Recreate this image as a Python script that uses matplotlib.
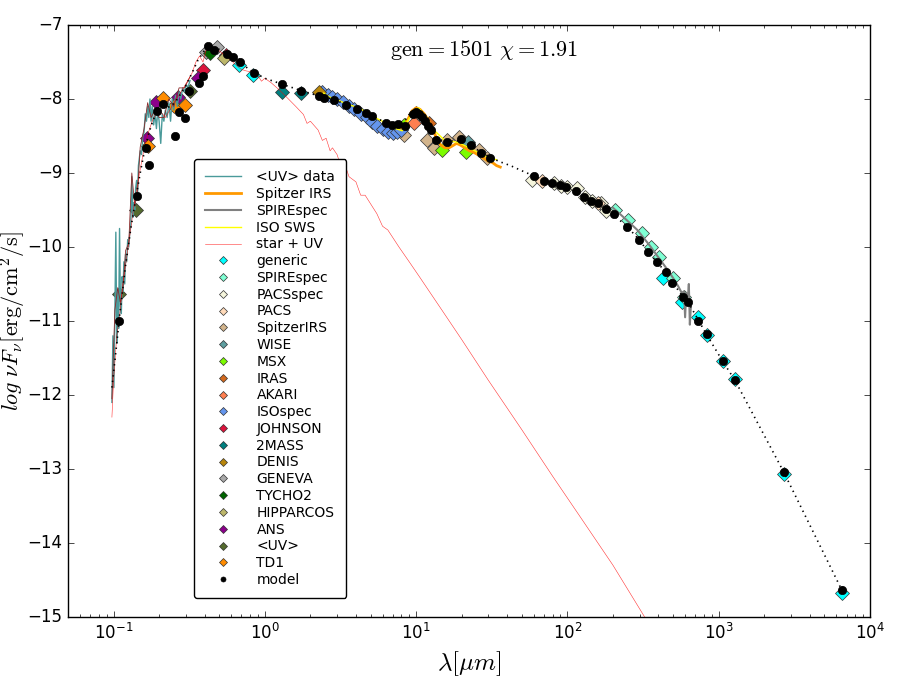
import matplotlib
matplotlib.use("Agg")
import matplotlib.pyplot as plt
import numpy as np

# ---- spectra: (wavelength [um], log nuFnu) ----
uv_data = [
    (0.0975, -12.1), (0.0990, -11.2), (0.1005, -11.9), (0.1020, -10.9), (0.1035, -9.8),
    (0.1050, -11.3), (0.1065, -10.6), (0.1080, -11.1), (0.1095, -9.75), (0.1110, -10.8),
    (0.1125, -10.9), (0.1140, -10.4), (0.1155, -10.6), (0.1170, -10.2), (0.1185, -10.5),
    (0.1200, -10.1), (0.1220, -10.2), (0.1240, -9.9), (0.1260, -10.0), (0.1280, -9.8),
    (0.1300, -9.7), (0.1320, -9.05), (0.1340, -9.6), (0.1360, -9.4), (0.1380, -9.5),
    (0.1400, -9.2), (0.1420, -9.1), (0.1440, -9.3), (0.1460, -8.9), (0.1480, -8.8),
    (0.1500, -8.7), (0.1530, -8.75), (0.1560, -8.5), (0.1590, -8.45), (0.1620, -8.2),
    (0.1650, -8.3), (0.1680, -8.1), (0.1710, -8.25), (0.1740, -8.0), (0.1770, -8.3),
    (0.1800, -8.1), (0.1840, -8.35), (0.1880, -8.2), (0.1920, -8.4), (0.1960, -8.15),
    (0.2000, -8.3), (0.2050, -8.6), (0.2100, -8.2), (0.2150, -8.3), (0.2200, -8.15),
    (0.2260, -8.25), (0.2320, -8.05), (0.2380, -8.3), (0.2440, -8.0), (0.2500, -8.15),
    (0.2570, -7.95), (0.2640, -8.1), (0.2710, -7.9), (0.2780, -8.0), (0.2860, -7.85),
    (0.2940, -7.9), (0.3020, -7.8), (0.3100, -7.85), (0.3200, -7.75),
]

spitzer_irs = [
    (7.6, -8.38), (8.2, -8.40), (8.8, -8.28), (9.4, -8.16), (10.0, -8.12), (10.6, -8.14),
    (11.3, -8.20), (12.0, -8.28), (12.8, -8.40), (13.6, -8.52), (14.5, -8.62), (15.5, -8.66),
    (16.5, -8.66), (17.5, -8.63), (18.5, -8.60), (19.5, -8.62), (21.0, -8.66), (22.5, -8.70),
    (24.0, -8.72), (26.0, -8.76), (28.0, -8.80), (30.0, -8.84), (32.0, -8.86), (34.0, -8.90),
    (36.0, -8.92),
]

spire_spec = [
    (200, -9.47), (230, -9.58), (260, -9.68), (290, -9.77), (320, -9.88), (350, -9.98),
    (380, -10.08), (420, -10.20), (460, -10.31), (500, -10.42), (540, -10.53), (570, -10.62),
    (590, -10.60), (600, -10.95), (610, -10.62), (625, -10.72), (635, -10.50), (645, -11.05),
    (655, -10.80),
]

iso_sws = [
    (2.45, -7.92), (2.65, -7.97), (3.0, -8.01), (3.5, -8.07), (4.2, -8.12), (5.0, -8.22),
    (6.1, -8.31), (7.1, -8.39), (8.1, -8.43), (9.0, -8.26), (9.7, -8.15), (10.4, -8.12),
    (11.8, -8.26), (13.1, -8.42), (15.3, -8.55), (19.2, -8.59), (22.4, -8.66), (26.1, -8.73),
    (30.5, -8.80), (34.0, -8.82),
]

star_uv = [
    (0.0975, -12.3), (0.100, -11.8), (0.105, -11.2), (0.110, -10.9), (0.115, -10.5),
    (0.120, -10.25), (0.125, -10.0), (0.130, -9.75), (0.135, -9.5), (0.140, -9.3),
    (0.150, -8.95), (0.160, -8.65), (0.170, -8.45), (0.180, -8.3), (0.190, -8.2),
    (0.200, -8.15), (0.210, -8.2), (0.220, -8.25), (0.235, -8.15), (0.250, -8.05),
    (0.270, -7.95), (0.290, -7.85), (0.310, -7.75), (0.330, -7.65), (0.350, -7.5),
    (0.370, -7.42), (0.390, -7.5), (0.410, -7.33), (0.430, -7.3), (0.460, -7.3),
    (0.500, -7.35), (0.550, -7.42), (0.600, -7.48), (0.660, -7.56), (0.700, -7.6),
    (0.750, -7.62), (0.800, -7.63), (0.885, -7.66), (0.95, -7.76), (1.00, -7.72),
    (1.10, -7.78), (1.25, -7.88), (1.40, -7.98), (1.60, -8.10), (1.80, -8.21),
    (1.90, -8.33), (2.00, -8.30), (2.25, -8.42), (2.40, -8.56), (2.54, -8.53),
    (2.70, -8.70), (2.80, -8.66), (3.00, -8.75), (3.20, -8.92), (3.40, -8.90),
    (3.60, -9.05), (4.00, -9.12), (4.30, -9.30), (4.60, -9.30), (5.50, -9.55),
    (6.00, -9.72), (6.50, -9.77), (7.70, -10.00), (9.0, -10.20), (10.5, -10.40),
    (12.5, -10.63), (15.0, -10.87), (20.0, -11.25), (30.0, -11.80), (50.0, -12.47),
    (80.0, -13.10), (120.0, -13.63), (200.0, -14.30), (324.0, -15.0), (400.0, -15.25),
]

# ---- model ----
model_curve = [
    (0.0975, -11.9), (0.105, -11.3), (0.11, -10.9), (0.12, -10.25), (0.13, -9.75),
    (0.14, -9.35), (0.15, -9.0), (0.16, -8.7), (0.17, -8.48), (0.18, -8.32), (0.19, -8.2),
    (0.2, -8.12), (0.21, -8.1), (0.22, -8.12), (0.24, -8.1), (0.26, -8.02), (0.28, -7.92),
    (0.3, -7.82), (0.33, -7.65), (0.36, -7.48), (0.4, -7.34), (0.44, -7.3), (0.5, -7.33),
    (0.56, -7.39), (0.62, -7.44), (0.7, -7.52), (0.8, -7.61), (0.9, -7.67), (1.0, -7.72),
    (1.3, -7.80), (1.7, -7.88), (2.2, -7.95), (2.8, -8.0), (3.4, -8.07), (4.0, -8.13),
    (4.7, -8.19), (5.5, -8.26), (6.3, -8.32), (7.0, -8.35), (7.8, -8.33), (8.5, -8.28),
    (9.2, -8.18), (9.8, -8.14), (10.5, -8.16), (11.3, -8.24), (12.2, -8.36), (13.2, -8.48),
    (14.5, -8.56), (16, -8.58), (18, -8.56), (20, -8.57), (23, -8.63), (27, -8.72),
    (31, -8.79), (36, -8.85), (42, -8.9), (50, -8.97), (60, -9.04), (70, -9.1), (80, -9.14),
    (90, -9.17), (100, -9.2), (115, -9.25), (130, -9.32), (145, -9.38), (160, -9.42),
    (180, -9.49), (200, -9.56), (250, -9.73), (300, -9.91), (340, -10.06), (390, -10.2),
    (450, -10.35), (500, -10.49), (580, -10.67), (630, -10.75), (740, -11.0), (830, -11.18),
    (1060, -11.54), (1280, -11.8), (2690, -13.04), (6530, -14.64),
]

model_wl = [0.108, 0.142, 0.165, 0.171, 0.193, 0.211, 0.254, 0.269, 0.295, 0.314, 0.366,
            0.389, 0.42, 0.46, 0.56, 0.62, 0.68, 0.85, 1.30, 1.73, 2.28, 2.46, 2.86, 3.44,
            4.06, 4.67, 5.12, 6.32, 6.9, 7.6, 8.45, 9.5, 10.0, 10.5, 11.0, 11.5, 12.0, 12.5,
            13.6, 16.0, 19.9, 23.1, 27.0, 31.0, 60.0, 70.4, 79.0, 89.0, 98.0, 114.0, 129.0,
            144.0, 160.0, 179.0, 202.0, 246.0, 296.0, 339.0, 391.0, 446.0, 490.0, 577.0,
            624.0, 730.0, 832.0, 1062.0, 1276.0, 2690.0, 6530.0]
model_flux = [-11.0, -9.31, -8.66, -8.89, -8.16, -8.07, -8.50, -8.18, -8.26, -7.89, -7.78,
              -7.69, -7.28, -7.34, -7.39, -7.43, -7.50, -7.65, -7.80, -7.89, -7.96, -7.99,
              -8.01, -8.08, -8.14, -8.19, -8.23, -8.32, -8.35, -8.34, -8.36, -8.2, -8.17,
              -8.2, -8.24, -8.3, -8.36, -8.42, -8.55, -8.58, -8.54, -8.62, -8.73, -8.80,
              -9.04, -9.11, -9.14, -9.16, -9.19, -9.25, -9.32, -9.38, -9.41, -9.49, -9.56,
              -9.73, -9.91, -10.07, -10.2, -10.34, -10.49, -10.67, -10.74, -11.0, -11.18,
              -11.54, -11.80, -13.04, -14.64]

# ---- photometry: name -> (colour, wavelengths, fluxes) ----
phot = {
    "generic": ("#00ffff", [0.673, 0.833, 426, 569, 726, 832, 1062, 1276, 2690, 6530],
                [-7.54, -7.68, -10.42, -10.74, -10.95, -11.19, -11.54, -11.78, -13.07, -14.68]),
    "SPIREspec": ("#7fffd4", [205, 250, 309, 355, 401, 496, 586],
                  [-9.50, -9.64, -9.81, -10.0, -10.14, -10.42, -10.68]),
    "PACSspec": ("#f5f5dc", [58.7, 82, 91, 99.8, 116, 131.5, 146.5, 168, 181],
                 [-9.09, -9.14, -9.18, -9.19, -9.20, -9.32, -9.38, -9.41, -9.51]),
    "PACS": ("#ffdab9", [68.3, 160], [-9.11, -9.41]),
    "SpitzerIRS": ("#d2b48c", [8.3, 10.0, 11.8, 13.1, 16.0, 19.2, 26.1, 29.5],
                   [-8.49, -8.19, -8.55, -8.66, -8.55, -8.51, -8.69, -8.80]),
    "WISE": ("#5f9ea0", [22.0], [-8.58]),
    "MSX": ("#7cfc00", [8.3, 14.9, 21.3], [-8.35, -8.69, -8.72]),
    "IRAS": ("#d2691e", [12.2], [-8.33]),
    "AKARI": ("#ff7f50", [9.7], [-8.33]),
    "ISOspec": ("#6495ed", [2.4, 2.6, 2.8, 3.0, 3.3, 3.6, 3.9, 4.3, 4.7, 5.1, 5.5, 6.0, 6.5, 7.0, 7.5, 8.0],
                [-7.90, -7.94, -7.97, -8.00, -8.04, -8.09, -8.14, -8.20, -8.25, -8.31, -8.36,
                 -8.41, -8.45, -8.46, -8.45, -8.42]),
    "JOHNSON": ("#dc143c", [0.389, 0.55], [-7.61, -7.41]),
    "2MASS": ("#008080", [1.30, 1.73], [-7.91, -7.92]),
    "DENIS": ("#b8860b", [2.28], [-7.91]),
    "GENEVA": ("#a9a9a9", [0.407, 0.481], [-7.36, -7.30]),
    "TYCHO2": ("#006400", [0.432], [-7.38]),
    "HIPPARCOS": ("#bdb76b", [0.535], [-7.45]),
    "ANS": ("#8b008b", [0.166, 0.190, 0.265, 0.360], [-8.53, -8.04, -7.97, -7.72]),
    "<UV>": ("#556b2f", [0.108, 0.140, 0.319], [-10.64, -9.50, -7.89]),
    "TD1": ("#ff8c00", [0.168, 0.211, 0.250, 0.295], [-8.64, -7.99, -8.09, -8.08]),
}

plt.style.use("classic")
plt.rcParams["mathtext.fontset"] = "cm"

fig = plt.figure(figsize=(9, 7), dpi=100, facecolor="white")
ax = fig.add_axes([0.0756, 0.1186, 0.891, 0.8457])
ax.set_facecolor("white")

handles = []

uv = np.array(uv_data)
h, = ax.plot(uv[:, 0], uv[:, 1], color="#4a9a9a", lw=1.0, label="<UV> data", zorder=3)
ax.plot(uv[::3, 0], uv[::3, 1] + 0.05, color="#8b2a2a", lw=0.6, zorder=3)
handles.append(h)

irs = np.array(spitzer_irs)
h, = ax.plot(irs[:, 0], irs[:, 1], color="#ff9900", lw=2.0, label="Spitzer IRS", zorder=4)
handles.append(h)

spire = np.array(spire_spec)
h, = ax.plot(spire[:, 0], spire[:, 1], color="gray", lw=1.5, label="SPIREspec", zorder=4)
handles.append(h)

sws = np.array(iso_sws)
h, = ax.plot(sws[:, 0], sws[:, 1], color="yellow", lw=1.0, label="ISO SWS", zorder=4)
handles.append(h)

star = np.array(star_uv)
h, = ax.plot(star[:, 0], star[:, 1], color="red", lw=0.4, alpha=0.8, label="star + UV", zorder=3)
handles.append(h)

for name, (col, wl, fl) in phot.items():
    h, = ax.plot(wl, fl, ls="none", marker="D", ms=7.5, mfc=col, mec="#333333", mew=0.5,
                 label=name, zorder=2)
    handles.append(h)

mc = np.array(model_curve)
ax.plot(mc[:, 0], mc[:, 1], color="black", ls=":", lw=1.2, zorder=5)
h, = ax.plot(model_wl, model_flux, ls="none", marker="o", ms=6, mfc="black", mec="black",
             label="model", zorder=6)
handles.append(h)

ax.set_xscale("log")
ax.set_xlim(0.05, 1e4)
ax.set_ylim(-15, -7)
ax.set_xlabel(r"$\lambda [\mu m]$", fontsize=18)
ax.set_ylabel(r"$log\ \nu F_\nu [\mathrm{erg/cm^2/s}]$", fontsize=16)
ax.yaxis.set_label_coords(-0.0499, 0.5)
ax.text(0.519, 0.958, r"$\mathrm{gen} = 1501\ \chi = 1.91$", transform=ax.transAxes,
        ha="center", va="center", fontsize=16)

leg = ax.legend(handles=handles, loc="lower left", bbox_to_anchor=(0.157, 0.032),
                borderaxespad=0, fontsize=10, numpoints=1, markerscale=0.6,
                labelspacing=0.2, borderpad=0.8, handlelength=2.6, handletextpad=1.1,
                fancybox=True)
leg.get_frame().set_edgecolor("black")

fig.savefig("out.png", dpi=100, facecolor="white")
